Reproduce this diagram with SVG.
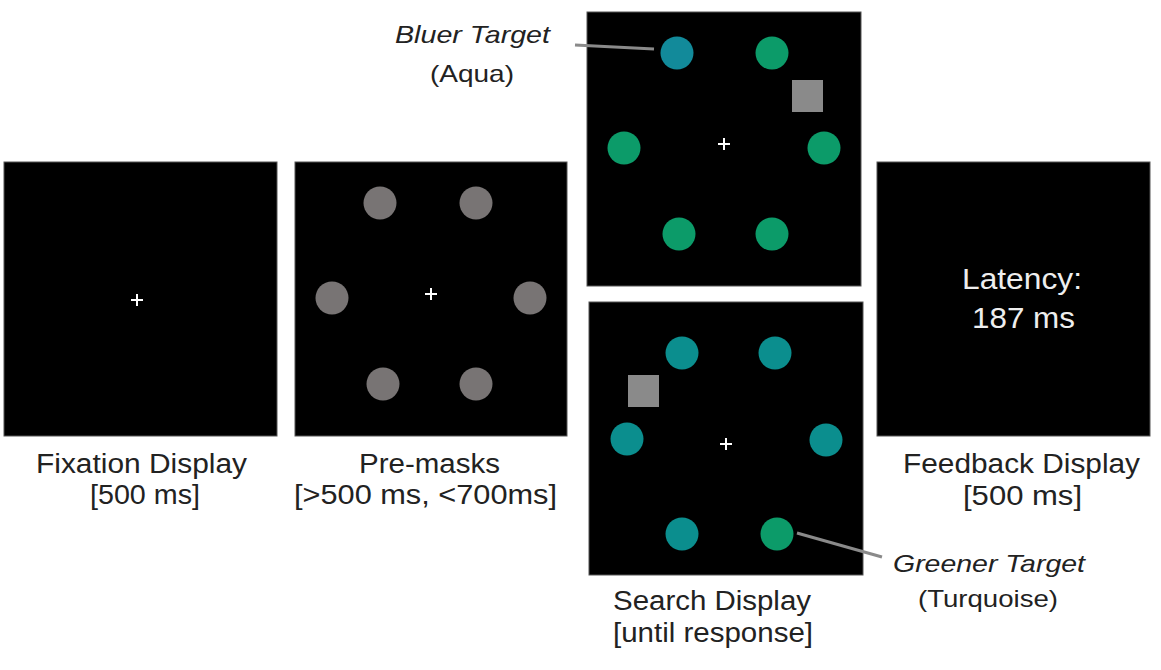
<svg xmlns="http://www.w3.org/2000/svg" width="1161" height="670" viewBox="0 0 1161 670">
<style>
.scr{fill:#000;stroke:#555;stroke-width:1}
.fx{stroke:#fff;stroke-width:2}
.lbl{font-family:"Liberation Sans",Arial,sans-serif;font-size:27px;fill:#222;text-anchor:middle}
.it{font-family:"Liberation Sans",Arial,sans-serif;font-size:24px;fill:#222;text-anchor:middle}
.in{font-family:"Liberation Sans",Arial,sans-serif;font-size:30px;fill:#eee;text-anchor:middle}
.gry{fill:#787474}
.grn{fill:#0c9b69}
.blu{fill:#128a9a}
.teal{fill:#0b8e8e}
.sq{fill:#8a8a8a}
.lead{stroke:#8a8a8a;stroke-width:3;fill:none}
</style>
<defs>
<g id="cross"><line class="fx" x1="-6" y1="0" x2="6" y2="0"/><line class="fx" x1="0" y1="-6" x2="0" y2="6"/></g>
</defs>
<rect width="1161" height="670" fill="#fff"/>

<g id="fixation">
<rect class="scr" x="4" y="162" width="273" height="274"/>
<use href="#cross" x="137" y="300"/>
<text class="lbl" x="141.5" y="473" textLength="211" lengthAdjust="spacingAndGlyphs">Fixation Display</text>
<text class="lbl" x="145" y="504" textLength="110" lengthAdjust="spacingAndGlyphs">[500 ms]</text>
</g>

<g id="premasks">
<rect class="scr" x="295" y="162" width="272" height="274"/>
<circle class="gry" cx="380" cy="203" r="16.5"/>
<circle class="gry" cx="476" cy="203" r="16.5"/>
<circle class="gry" cx="332" cy="298" r="16.5"/>
<circle class="gry" cx="530" cy="298" r="16.5"/>
<circle class="gry" cx="383" cy="384" r="16.5"/>
<circle class="gry" cx="476" cy="384" r="16.5"/>
<use href="#cross" x="431" y="294"/>
<text class="lbl" x="429.5" y="473" textLength="141" lengthAdjust="spacingAndGlyphs">Pre-masks</text>
<text class="lbl" x="425.5" y="504" textLength="263" lengthAdjust="spacingAndGlyphs">[&gt;500 ms, &lt;700ms]</text>
</g>

<g id="search-top">
<rect class="scr" x="587" y="12" width="274" height="274"/>
<circle class="blu" cx="677" cy="53" r="16.5"/>
<circle class="grn" cx="772" cy="53" r="16.5"/>
<rect class="sq" x="792" y="80" width="31" height="32"/>
<circle class="grn" cx="624" cy="148" r="16.5"/>
<circle class="grn" cx="824" cy="148" r="16.5"/>
<circle class="grn" cx="679" cy="234" r="16.5"/>
<circle class="grn" cx="772" cy="234" r="16.5"/>
<use href="#cross" x="724" y="144"/>
</g>

<g id="search-bottom">
<rect class="scr" x="589" y="302" width="274" height="273"/>
<circle class="teal" cx="682" cy="353" r="16.5"/>
<circle class="teal" cx="775" cy="353" r="16.5"/>
<rect class="sq" x="628" y="375" width="31" height="32"/>
<circle class="teal" cx="627" cy="439" r="16.5"/>
<circle class="teal" cx="826" cy="440" r="16.5"/>
<circle class="teal" cx="682" cy="534" r="16.5"/>
<circle class="grn" cx="777" cy="534" r="16.5"/>
<use href="#cross" x="726" y="444"/>
<text class="lbl" x="712" y="610" textLength="198" lengthAdjust="spacingAndGlyphs">Search Display</text>
<text class="lbl" x="713" y="642" textLength="200" lengthAdjust="spacingAndGlyphs">[until response]</text>
</g>

<g id="feedback">
<rect class="scr" x="877" y="162" width="273" height="274"/>
<text class="in" x="1022" y="289" textLength="120" lengthAdjust="spacingAndGlyphs">Latency:</text>
<text class="in" x="1023.5" y="328" textLength="103" lengthAdjust="spacingAndGlyphs">187 ms</text>
<text class="lbl" x="1021.5" y="473" textLength="237" lengthAdjust="spacingAndGlyphs">Feedback Display</text>
<text class="lbl" x="1022.5" y="505" textLength="119" lengthAdjust="spacingAndGlyphs">[500 ms]</text>
</g>

<g id="bluer-label">
<text class="it" x="472.5" y="43" font-style="italic" textLength="155" lengthAdjust="spacingAndGlyphs">Bluer Target</text>
<text class="it" x="472" y="82" textLength="84" lengthAdjust="spacingAndGlyphs">(Aqua)</text>
</g>

<g id="greener-label">
<text class="it" x="989" y="572" font-style="italic" textLength="192" lengthAdjust="spacingAndGlyphs">Greener Target</text>
<text class="it" x="988" y="607" textLength="140" lengthAdjust="spacingAndGlyphs">(Turquoise)</text>
</g>

<g id="connectors">
<line class="lead" x1="575" y1="45" x2="654" y2="49"/>
<line class="lead" x1="797" y1="533" x2="882" y2="557"/>
</g>
</svg>
